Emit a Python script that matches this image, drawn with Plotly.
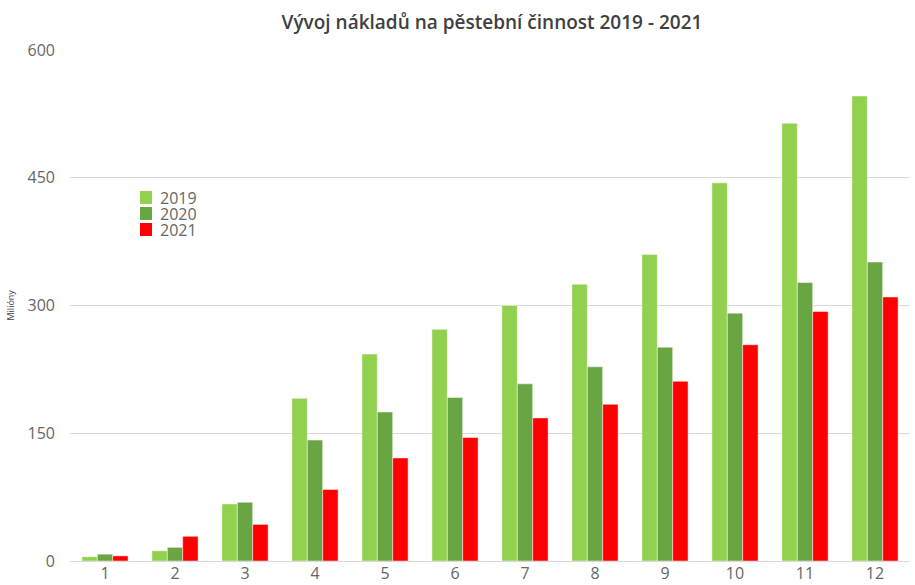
import plotly.graph_objects as go

months = [str(m) for m in range(1, 13)]
v2019 = [5, 12, 67, 191, 243, 272, 300, 325, 360, 444, 514, 546]
v2020 = [8, 16, 69, 142, 175, 192, 208, 228, 251, 291, 327, 351]
v2021 = [6, 29, 43, 84, 121, 145, 168, 184, 211, 254, 293, 310]
series_names = ["2019", "2020", "2021"]
colors = ["#92D050", "#6AA543", "#FF0000"]
y_ticks = [0, 150, 300, 450, 600]

W, H = 915, 585
ML, MR, MT, MB = 70, 5, 50, 24

fig = go.Figure()
for name, vals, col in zip(series_names, [v2019, v2020, v2021], colors):
    fig.add_trace(go.Bar(
        x=months, y=vals, name=name, showlegend=False,
        marker=dict(color=col, line=dict(color="rgba(255,255,255,0.6)", width=0.8)),
    ))

fig.update_layout(
    width=W, height=H,
    margin=dict(l=ML, r=MR, t=MT, b=MB, autoexpand=False),
    paper_bgcolor="white", plot_bgcolor="white",
    barmode="group", bargap=0.34, bargroupgap=0,
    title=dict(text="Vývoj nákladů na pěstební činnost 2019 - 2021",
               x=492 / W, xanchor="center", xref="container",
               y=1 - 22 / H, yanchor="middle", yref="container",
               font=dict(family="Open Sans", size=19, color="#404040", weight=600)),
    font=dict(family="Open Sans", color="#595959"),
    showlegend=False,
)
fig.update_xaxes(showgrid=False, showline=True, linecolor="#D9D9D9", linewidth=1,
                 ticks="", automargin=False, ticklabelstandoff=-2,
                 tickfont=dict(size=16, color="#666666"))
fig.update_yaxes(range=[0, 600], tickvals=y_ticks, showgrid=True, gridcolor="#D9D9D9",
                 gridwidth=1, zeroline=False, ticks="", ticklabelstandoff=14,
                 automargin=False, tickfont=dict(size=16, color="#666666"))
fig.add_annotation(text="Milióny", xref="paper", yref="paper",
                   x=-60 / (W - ML - MR), y=0.5, xanchor="center", yanchor="middle",
                   textangle=-90, showarrow=False,
                   font=dict(size=9, color="#404040", family="Open Sans"))

# custom legend (tight row spacing as in the reference)
pw, ph = W - ML - MR, H - MT - MB
for i, (name, col) in enumerate(zip(series_names, colors)):
    top = 191 + 16 * i
    fig.add_shape(type="rect", xref="paper", yref="paper",
                  x0=(140 - ML) / pw, x1=(152 - ML) / pw,
                  y0=(H - MB - (top + 13)) / ph, y1=(H - MB - top) / ph,
                  fillcolor=col, line=dict(width=0))
    fig.add_annotation(text=name, xref="paper", yref="paper",
                       x=(159 - ML) / pw, y=(H - MB - (top + 6.5)) / ph,
                       xanchor="left", yanchor="middle", showarrow=False,
                       borderpad=0,
                       font=dict(size=16, color="#666666", family="Open Sans"))

fig.write_html("out.html", config={"displayModeBar": False},
               post_script="document.body.style.margin='0';document.body.style.overflow='hidden';")
